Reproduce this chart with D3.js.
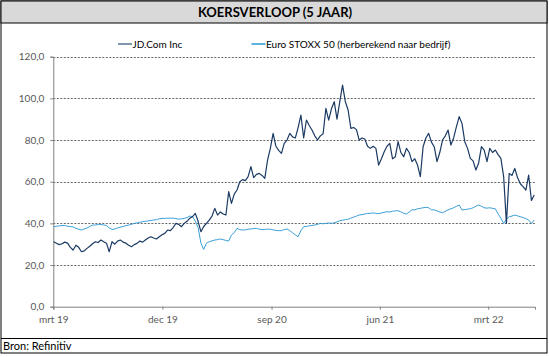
<!DOCTYPE html>
<html>
<head>
<meta charset="utf-8">
<script src="https://cdn.jsdelivr.net/npm/d3@7"></script>
<style>
  html, body { margin: 0; padding: 0; background: #fff; }
  svg { display: block; }
</style>
</head>
<body>
<script>
// ---------- DATA ----------
const title = "KOERSVERLOOP (5 JAAR)";
const source = "Bron: Refinitiv";
const seriesNames = ["JD.Com Inc", "Euro STOXX 50 (herberekend naar bedrijf)"];
const startDate = "2019-03-02";   // first weekly observation
const stepDays = 7;               // weekly observations
const xTickDates = ["2019-03-01", "2019-12-01", "2020-09-01", "2021-06-01", "2022-03-01"];
const xTickLabels = ["mrt 19", "dec 19", "sep 20", "jun 21", "mrt 22"];
const yTicks = [0, 20, 40, 60, 80, 100, 120];

const jdValues = [
  31.2, 30.5, 29.8, 30.2, 31.0, 30.5, 28.5, 27.2, 29.5, 28.5,
  26.4, 26.8, 28.0, 29.0, 30.2, 31.2, 30.8, 32.0, 31.2, 30.5,
  26.4, 31.2, 30.0, 31.5, 32.0, 31.0, 30.5, 29.5, 28.8, 29.8,
  30.4, 31.5, 31.0, 32.0, 33.0, 33.6, 33.0, 32.5, 33.6, 34.5,
  35.2, 36.8, 36.5, 38.0, 40.0, 39.5, 38.4, 40.0, 41.0, 42.5,
  43.2, 44.8, 41.0, 36.0, 38.5, 40.0, 41.6, 43.5, 47.2, 44.0,
  45.5, 44.5, 44.0, 55.2, 49.6, 54.0, 56.0, 60.0, 61.0, 60.5,
  62.4, 67.2, 62.0, 63.5, 64.0, 63.0, 61.6, 70.4, 76.0, 83.2,
  77.0, 75.0, 73.6, 78.4, 80.0, 83.2, 81.5, 81.0, 86.0, 92.0,
  81.0, 89.6, 87.0, 84.8, 82.0, 80.0, 82.0, 83.0, 95.2, 89.6,
  95.0, 98.4, 90.0, 98.4, 106.4, 98.4, 94.4, 85.6, 86.0, 85.0,
  80.0, 81.0, 80.5, 77.0, 76.0, 77.0, 76.0, 68.0, 71.0, 74.4,
  77.0, 78.4, 71.0, 72.0, 79.2, 74.0, 72.0, 76.0, 74.0, 69.6,
  71.0, 68.0, 62.4, 76.8, 81.0, 83.2, 79.0, 76.8, 69.6, 74.0,
  80.0, 82.0, 84.8, 77.6, 81.0, 86.4, 91.2, 88.0, 79.2, 76.0,
  71.2, 70.0, 65.6, 69.0, 76.8, 75.2, 69.6, 76.0, 74.0, 75.2,
  73.0, 71.2, 62.4, 40.0, 64.0, 63.0, 66.4, 62.0, 59.0, 57.6,
  56.0, 63.2, 51.0, 53.6
];

const stoxxValues = [
  38.4, 38.6, 38.8, 39.0, 39.0, 38.6, 38.5, 38.3, 37.6, 37.2,
  36.8, 37.3, 37.8, 38.5, 39.2, 39.2, 39.5, 39.5, 39.2, 39.0,
  37.8, 37.1, 37.3, 37.8, 38.2, 38.5, 38.9, 39.2, 39.5, 40.0,
  40.2, 40.5, 40.8, 41.0, 41.2, 41.4, 41.6, 41.8, 42.2, 42.4,
  42.4, 42.5, 42.5, 42.5, 42.3, 42.0, 42.2, 42.4, 42.8, 43.5,
  43.2, 41.0, 38.0, 30.5, 27.5, 30.5, 31.2, 31.6, 32.0, 32.2,
  32.5, 32.2, 31.8, 31.5, 34.4, 35.5, 37.6, 37.0, 36.8, 36.9,
  37.2, 37.3, 37.5, 37.6, 37.2, 37.0, 37.1, 37.2, 37.2, 36.9,
  36.6, 36.5, 36.5, 37.0, 37.3, 36.5, 35.5, 34.5, 33.6, 36.5,
  38.4, 38.5, 38.8, 39.0, 39.2, 39.5, 40.0, 39.8, 40.0, 40.2,
  40.0, 40.3, 40.7, 41.3, 41.5, 41.8, 42.0, 42.5, 43.0, 43.5,
  44.0, 44.2, 44.5, 44.8, 44.8, 45.0, 44.8, 44.7, 45.0, 45.3,
  45.6, 45.5, 45.8, 46.0, 46.1, 45.5, 44.8, 44.5, 45.5, 46.5,
  46.5, 47.0, 47.2, 47.5, 47.7, 47.5, 46.5, 46.5, 46.0, 45.5,
  45.1, 45.8, 46.5, 47.0, 47.5, 48.2, 48.8, 46.4, 46.6, 46.8,
  47.0, 47.5, 48.2, 48.8, 48.2, 47.5, 47.3, 47.5, 47.2, 47.0,
  44.5, 42.5, 40.0, 42.0, 43.2, 43.5, 44.0, 43.6, 43.2, 42.8,
  42.3, 41.6, 40.0, 41.6
];

// ---------- LAYOUT ----------
const W = 549, H = 357;
const colors = { jd: "#1b3a63", stoxx: "#3b9fd6", legendJd: "#8095aa", legendStoxx: "#5cb3e0" };
const font = "Lato, 'Open Sans', sans-serif";
const plot = { left: 53.3, right: 535, top: 56.7, bottom: 306.7 };

const parse = d3.utcParse("%Y-%m-%d");
const start = parse(startDate);
const dateAt = i => d3.utcDay.offset(start, i * stepDays);
const jd = jdValues.map((v, i) => ({ date: dateAt(i), value: v }));
const stoxx = stoxxValues.map((v, i) => ({ date: dateAt(i), value: v }));

const svg = d3.select("body").append("svg").attr("width", W).attr("height", H);

// outer frame
svg.append("rect").attr("x", 1).attr("y", 1).attr("width", W - 3).attr("height", 352)
  .attr("fill", "#fff").attr("stroke", "#000").attr("stroke-width", 1);
// title bar
svg.append("rect").attr("x", 1).attr("y", 1).attr("width", W - 3).attr("height", 22)
  .attr("fill", "#d9d9d9").attr("stroke", "#000").attr("stroke-width", 1);
svg.append("text").attr("x", 275).attr("y", 17).attr("text-anchor", "middle")
  .attr("font-family", font).attr("font-weight", "bold").attr("font-size", 13)
  .attr("fill", "#000").text(title);
// footer
svg.append("line").attr("x1", 1).attr("x2", W - 2).attr("y1", 338.5).attr("y2", 338.5)
  .attr("stroke", "#000");
svg.append("text").attr("x", 3).attr("y", 350).attr("font-family", font).attr("font-size", 11)
  .attr("fill", "#000").text(source);

// scales
const x = d3.scaleUtc()
  .domain([parse("2019-03-01"), parse("2022-06-27")])
  .range([plot.left, plot.right]);
const y = d3.scaleLinear().domain([0, 120]).range([plot.bottom, plot.top]);

// gridlines
svg.append("g").selectAll("line").data(yTicks.filter(d => d > 0)).join("line")
  .attr("x1", plot.left).attr("x2", plot.right)
  .attr("y1", d => Math.round(y(d)) + 0.5).attr("y2", d => Math.round(y(d)) + 0.5)
  .attr("stroke", "#404040").attr("stroke-width", 0.8).attr("stroke-dasharray", "2,1.5");

// y axis
const fmt = d => d3.format(".1f")(d).replace(".", ",");
const yAxis = svg.append("g").attr("transform", `translate(${plot.left},0)`)
  .call(d3.axisLeft(y).tickValues(yTicks).tickFormat(fmt).tickSize(3).tickPadding(6));
yAxis.select(".domain").attr("stroke", "#808080");
yAxis.selectAll(".tick line").attr("stroke", "#808080");
yAxis.selectAll("text").attr("font-family", font).attr("font-size", 10).attr("fill", "#595959");

// x axis
const xAxis = svg.append("g").attr("transform", `translate(0,${plot.bottom})`)
  .call(d3.axisBottom(x).tickValues(xTickDates.map(parse))
    .tickFormat((d, i) => xTickLabels[i]).tickSizeOuter(0).tickSize(3).tickPadding(6));
xAxis.select(".domain").attr("stroke", "#808080");
xAxis.selectAll(".tick line").attr("stroke", "#808080");
xAxis.selectAll("text").attr("font-family", font).attr("font-size", 10).attr("fill", "#595959");

// lines
const line = d3.line().x(d => x(d.date)).y(d => y(d.value));
svg.append("path").datum(stoxx).attr("d", line).attr("fill", "none")
  .attr("stroke", colors.stoxx).attr("stroke-width", 1);
svg.append("path").datum(jd).attr("d", line).attr("fill", "none")
  .attr("stroke", colors.jd).attr("stroke-width", 1.2).attr("stroke-linejoin", "round");

// legend
const legend = [
  { name: seriesNames[0], color: colors.legendJd, x: 118 },
  { name: seriesNames[1], color: colors.legendStoxx, x: 251.5 }
];
const lg = svg.append("g").selectAll("g").data(legend).join("g")
  .attr("transform", d => `translate(${d.x},44)`);
lg.append("line").attr("x1", 0).attr("x2", 14).attr("stroke", d => d.color).attr("stroke-width", 2);
lg.append("text").attr("x", 14.5).attr("dy", "0.35em").attr("font-family", font).attr("font-size", 10)
  .attr("fill", "#000").text(d => d.name);
</script>
</body>
</html>
